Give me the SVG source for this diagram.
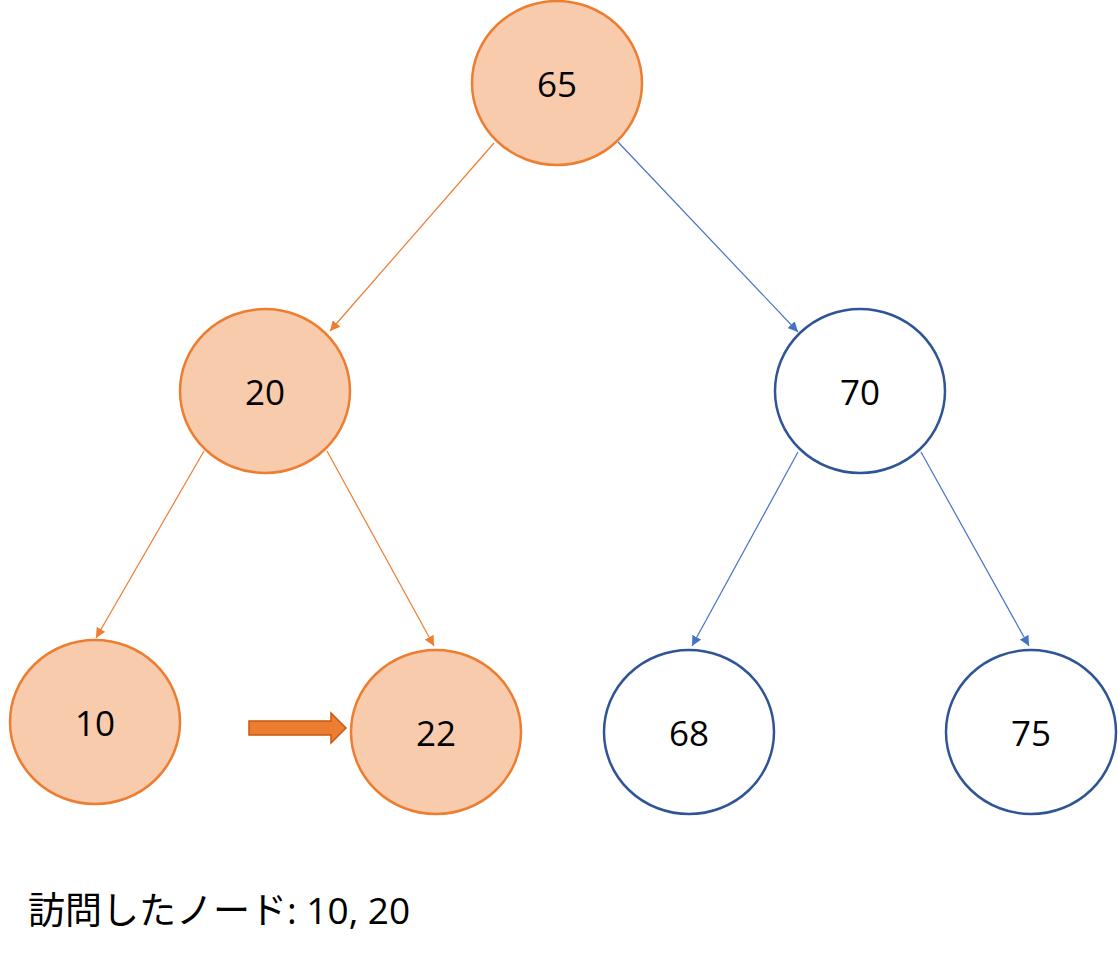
<svg xmlns="http://www.w3.org/2000/svg" width="1118" height="960" viewBox="0 0 1118 960">
<style>
.o{fill:#f8cbad;stroke:#ed7d31;stroke-width:2.5}
.b{fill:#fff;stroke:#2f5597;stroke-width:2.5}
.t{font-family:"Open Sans","Liberation Sans",sans-serif;font-size:35px;fill:#000;text-anchor:middle;dominant-baseline:central}
.lo{stroke:#ed7d31;stroke-width:1.2;marker-end:url(#ao)}
.lb{stroke:#4472c4;stroke-width:1.2;marker-end:url(#ab)}
</style>
<defs>
<marker id="ao" viewBox="0 0 10 10" refX="10" refY="5" markerWidth="10" markerHeight="10" markerUnits="userSpaceOnUse" orient="auto"><path d="M0,0L10,5L0,10z" fill="#ed7d31"/></marker>
<marker id="ab" viewBox="0 0 10 10" refX="10" refY="5" markerWidth="10" markerHeight="10" markerUnits="userSpaceOnUse" orient="auto"><path d="M0,0L10,5L0,10z" fill="#4472c4"/></marker>
</defs>
<rect width="1118" height="960" fill="#fff"/>
<g id="connectors">
<line class="lo" x1="494" y1="143" x2="330" y2="331"/>
<line class="lb" x1="618" y1="142" x2="798" y2="332"/>
<line class="lo" x1="204" y1="451" x2="96" y2="638"/>
<line class="lo" x1="327" y1="451" x2="434" y2="646"/>
<line class="lb" x1="798" y1="452" x2="692" y2="646"/>
<line class="lb" x1="921" y1="452" x2="1029" y2="646"/>
<path d="M249,721H331V713L346,728L331,743V735H249Z" fill="#ed7d31" stroke="#c55a11" stroke-width="1.5"/>
</g>
<g id="n65"><ellipse class="o" cx="557" cy="83" rx="85" ry="82"/><text class="t" x="557" y="83">65</text></g>
<g id="n20"><ellipse class="o" cx="265" cy="391" rx="85" ry="82"/><text class="t" x="265" y="391">20</text></g>
<g id="n70"><ellipse class="b" cx="860" cy="391" rx="85" ry="82"/><text class="t" x="860" y="391">70</text></g>
<g id="n10"><ellipse class="o" cx="95" cy="722" rx="85" ry="82"/><text class="t" x="95" y="722">10</text></g>
<g id="n22"><ellipse class="o" cx="436" cy="732" rx="85" ry="82"/><text class="t" x="436" y="732">22</text></g>
<g id="n68"><ellipse class="b" cx="689" cy="732" rx="85" ry="82"/><text class="t" x="689" y="732">68</text></g>
<g id="n75"><ellipse class="b" cx="1031" cy="732" rx="85" ry="82"/><text class="t" x="1031" y="732">75</text></g>
<text x="28" y="924" font-family="'Open Sans','Noto Sans CJK JP',sans-serif" font-size="37" fill="#000">訪問したノード: 10, 20</text>
</svg>
